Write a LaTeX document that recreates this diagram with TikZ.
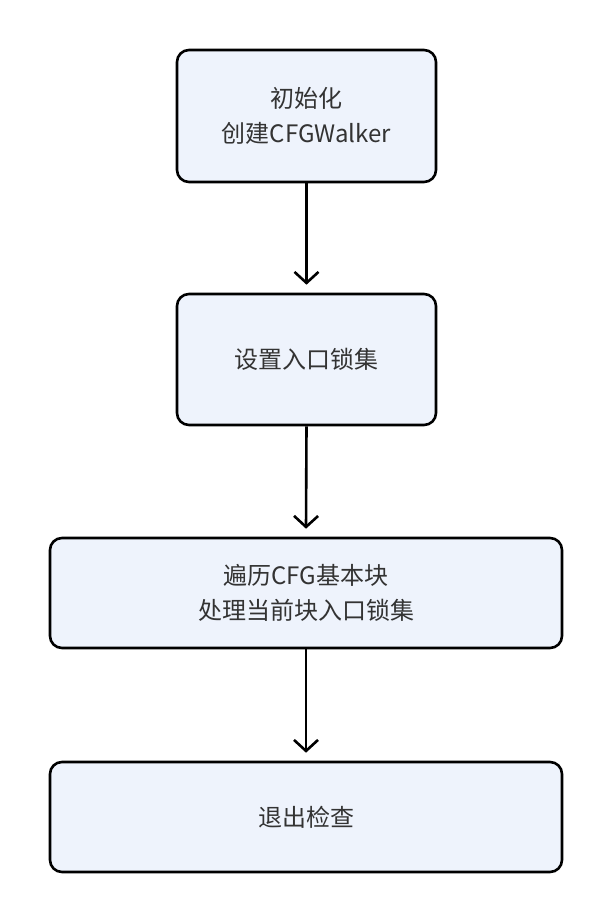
\documentclass[tikz,border=0pt]{standalone}
\usepackage{fontspec}
\setmainfont{Noto Sans CJK SC}
\usetikzlibrary{arrows.meta}
\definecolor{boxfill}{HTML}{EEF3FC}
\definecolor{txt}{HTML}{333333}
\begin{document}
\begin{tikzpicture}[x=1pt,y=-1pt,
  box/.style={draw=black,line width=2.6pt,fill=boxfill,rounded corners=12pt,align=center,text=txt,font=\fontsize{24}{35}\selectfont,inner sep=0pt},
  arr/.style={line width=2.6pt,-{Straight Barb[length=11pt,width=24pt,line width=2.6pt]}}]
\useasboundingbox (0,0) rectangle (612,923);
\node[box,minimum width=259pt,minimum height=132pt] (a) at (306.5,116) {初始化\\创建CFGWalker};
\node[box,minimum width=259pt,minimum height=131pt] (b) at (306.5,359.5) {设置入口锁集};
\node[box,minimum width=512pt,minimum height=110pt] (c) at (306,593) {遍历CFG基本块\\处理当前块入口锁集};
\node[box,minimum width=512pt,minimum height=110pt] (d) at (306,817) {退出检查};
\draw[arr] (a.south) -- ([yshift=8pt]b.north);
\draw[arr] (b.south) -- ([yshift=8pt]c.north);
\draw[arr] (c.south) -- ([yshift=8pt]d.north);
\end{tikzpicture}
\end{document}
